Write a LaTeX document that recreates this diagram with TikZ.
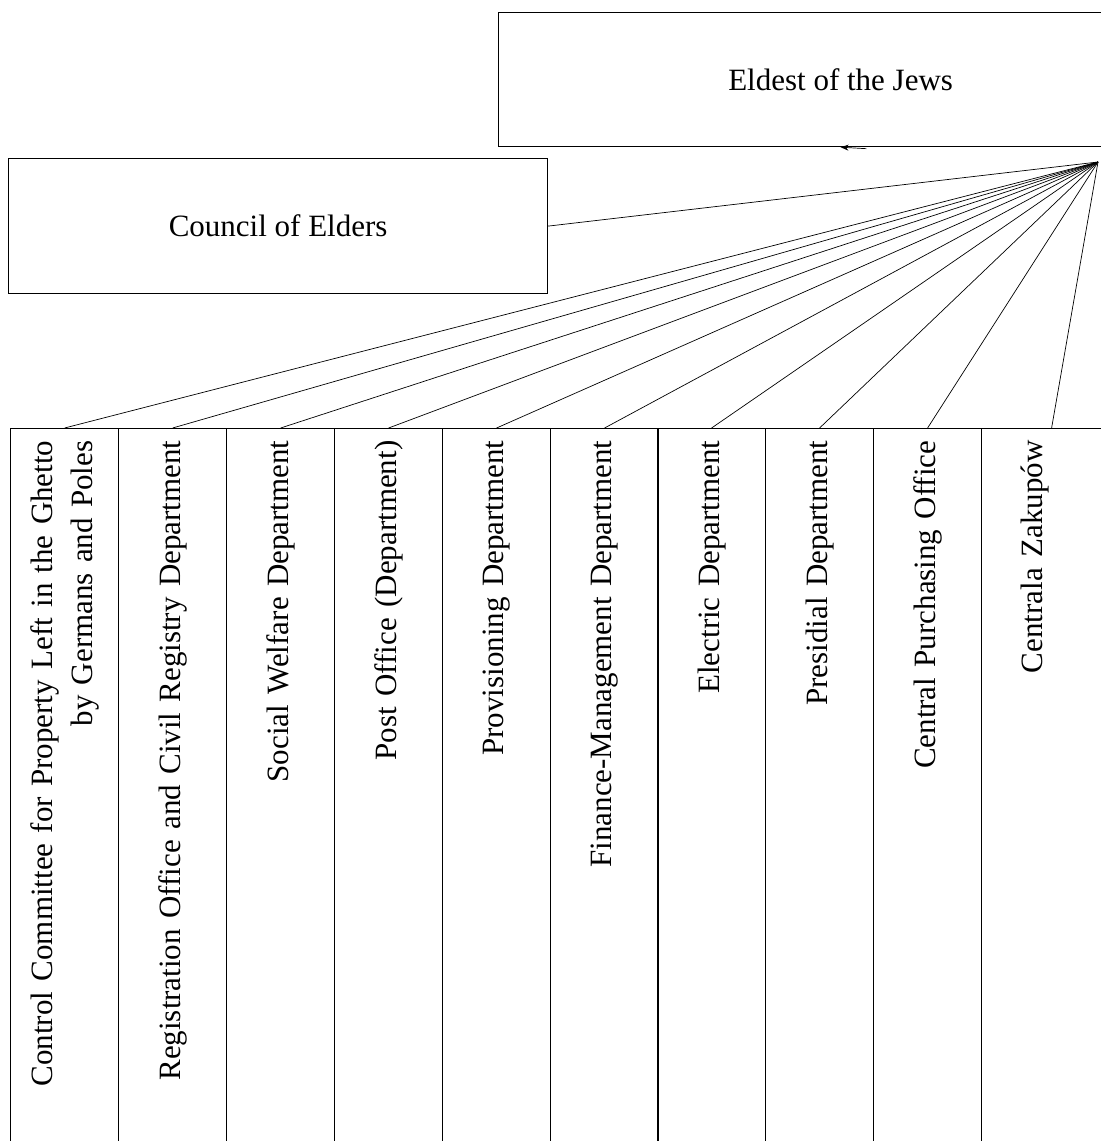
\documentclass[tikz,border=0pt]{standalone}
\usepackage{fontspec}
\setmainfont{Liberation Serif}
\usepackage{tikz}
\usetikzlibrary{arrows.meta,calc,positioning}

\begin{document}
\begin{tikzpicture}[
    x=0.5pt, y=-0.5pt,
    font=\fontsize{15.5}{20}\selectfont,
    topbox/.style={rectangle, draw=black, line width=0.6pt, inner sep=0pt, anchor=north west},
    col/.style={rectangle, draw=black, line width=0.6pt, rotate=90, anchor=north east,
        minimum height=54pt, inner xsep=6pt, inner ysep=0pt, text width=349pt, align=right},
    link/.style={line width=0.35pt, black}
]
    \useasboundingbox (0,0) rectangle (1101,1141);
    \clip (0,0) rectangle (1101,1141);

    % Top boxes
    \node[topbox, minimum width=342pt, minimum height=67pt] (eldest) at (498,12) {Eldest of the Jews};
    \node[topbox, minimum width=269.5pt, minimum height=67.5pt] (council) at (8,158) {Council of Elders};

    \coordinate (hub) at (1098,162);

    % Departments
    \node[col] (control) at (10,428) {Control Committee for Property Left in the Ghetto\\by Germans and Poles};
    \node[col] (registry) at (118,428) {Registration Office and Civil Registry Department};
    \node[col] (welfare) at (226,428) {Social Welfare Department};
    \node[col] (post) at (334,428) {Post Office (Department)};
    \node[col] (provision) at (442,428) {Provisioning Department};
    \node[col] (finance) at (550,428) {Finance-Management Department};
    \node[col] (electric) at (657,428) {Electric Department};
    \node[col] (presidial) at (765,428) {Presidial Department};
    \node[col] (purchase) at (873,428) {Central Purchasing Office};
    \node[col, minimum height=70pt, text height=11pt, text depth=20pt] (centrala) at (981,428) {Centrala Zakupów};

    % Arrows
    \coordinate (tail) at ($(eldest.south)!0.1!(hub)$);
    \draw[link, -{Stealth[length=4pt, width=3pt]}] (tail) -- (eldest.south);
    \draw[link] (council.east) -- (hub);
    \draw[link] (control.east) -- (hub);
    \draw[link] (registry.east) -- (hub);
    \draw[link] (welfare.east) -- (hub);
    \draw[link] (post.east) -- (hub);
    \draw[link] (provision.east) -- (hub);
    \draw[link] (finance.east) -- (hub);
    \draw[link] (electric.east) -- (hub);
    \draw[link] (presidial.east) -- (hub);
    \draw[link] (purchase.east) -- (hub);
    \draw[link] (centrala.east) -- (hub);
\end{tikzpicture}
\end{document}
